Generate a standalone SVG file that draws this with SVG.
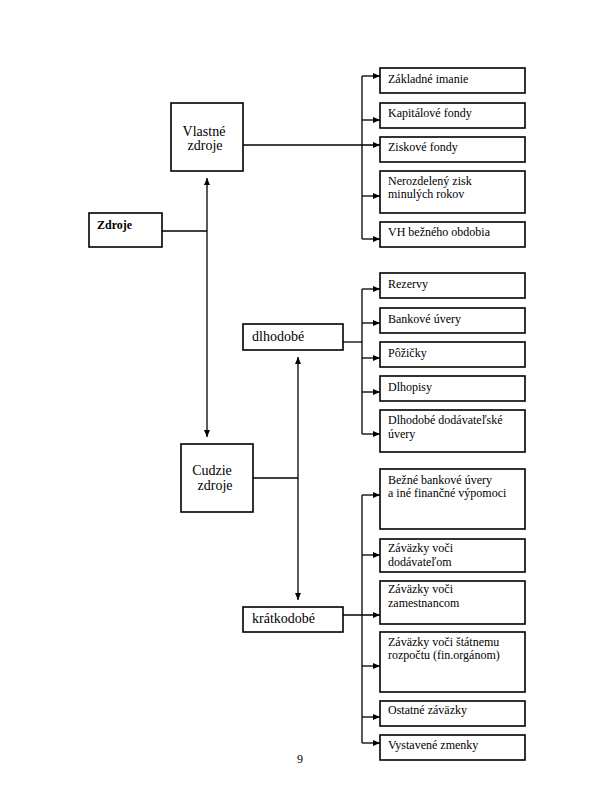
<svg xmlns="http://www.w3.org/2000/svg" width="600" height="800" viewBox="0 0 600 800">
<defs>
<marker id="arr" markerUnits="userSpaceOnUse" markerWidth="7" markerHeight="6" refX="7" refY="3" orient="auto-start-reverse">
<path d="M0,0 L7,3 L0,6 z" fill="#000"/>
</marker>
<style>
.box{fill:#fff;stroke:#000;stroke-width:1.6}
.ln{fill:none;stroke:#000;stroke-width:1.3}
text{font-family:'Liberation Serif','DejaVu Serif','Times New Roman',Times,serif;fill:#000}
.t{font-size:12px}
.m{font-size:14px}
.b{font-size:12px;font-weight:bold}
</style>
</defs>
<rect width="600" height="800" fill="#fff"/>
<g id="connectors">
<path class="ln" d="M162,231 H207"/>
<path class="ln" d="M207,178 V437" marker-start="url(#arr)" marker-end="url(#arr)"/>
<path class="ln" d="M243,145 H380" marker-end="url(#arr)"/>
<path class="ln" d="M362,76 V239"/>
<path class="ln" d="M362,76 H380" marker-end="url(#arr)"/>
<path class="ln" d="M362,120 H380" marker-end="url(#arr)"/>
<path class="ln" d="M362,196 H380" marker-end="url(#arr)"/>
<path class="ln" d="M362,239 H380" marker-end="url(#arr)"/>
<path class="ln" d="M253,478 H298"/>
<path class="ln" d="M298,357 V600" marker-start="url(#arr)" marker-end="url(#arr)"/>
<path class="ln" d="M343,342 H362"/>
<path class="ln" d="M362,289 V434"/>
<path class="ln" d="M362,289 H380" marker-end="url(#arr)"/>
<path class="ln" d="M362,323 H380" marker-end="url(#arr)"/>
<path class="ln" d="M362,358 H380" marker-end="url(#arr)"/>
<path class="ln" d="M362,392 H380" marker-end="url(#arr)"/>
<path class="ln" d="M362,434 H380" marker-end="url(#arr)"/>
<path class="ln" d="M343,615 H380" marker-end="url(#arr)"/>
<path class="ln" d="M362,495 V743"/>
<path class="ln" d="M362,495 H380" marker-end="url(#arr)"/>
<path class="ln" d="M362,555 H380" marker-end="url(#arr)"/>
<path class="ln" d="M362,666 H380" marker-end="url(#arr)"/>
<path class="ln" d="M362,717 H380" marker-end="url(#arr)"/>
<path class="ln" d="M362,743 H380" marker-end="url(#arr)"/>
</g>
<g id="zdroje"><rect class="box" x="89" y="213" width="73" height="34"/><text class="b" x="97" y="229">Zdroje</text></g>
<g id="vlastne"><rect class="box" x="171" y="103" width="72" height="68"/><text class="m" x="204" y="136" text-anchor="middle">Vlastné</text><text class="m" x="205" y="150" text-anchor="middle">zdroje</text></g>
<g id="cudzie"><rect class="box" x="181" y="444" width="72" height="68"/><text class="m" x="212" y="475" text-anchor="middle">Cudzie</text><text class="m" x="215" y="490" text-anchor="middle">zdroje</text></g>
<g id="dlhodobe"><rect class="box" x="243" y="324" width="100" height="26"/><text class="m" x="252" y="341">dlhodobé</text></g>
<g id="kratkodobe"><rect class="box" x="243" y="607" width="100" height="25"/><text class="m" x="252" y="623">krátkodobé</text></g>
<g id="zakladne"><rect class="box" x="380" y="68" width="145" height="25"/><text class="t" x="388" y="83">Základné imanie</text></g>
<g id="kapitalove"><rect class="box" x="380" y="103" width="145" height="25"/><text class="t" x="388" y="117">Kapitálové fondy</text></g>
<g id="ziskove"><rect class="box" x="380" y="137" width="145" height="25"/><text class="t" x="388" y="151">Ziskové fondy</text></g>
<g id="nerozdeleny"><rect class="box" x="380" y="171" width="145" height="42"/><text class="t" x="388" y="185">Nerozdelený zisk</text><text class="t" x="388" y="198">minulých rokov</text></g>
<g id="vh"><rect class="box" x="380" y="222" width="145" height="25"/><text class="t" x="388" y="236">VH bežného obdobia</text></g>
<g id="rezervy"><rect class="box" x="380" y="273" width="145" height="25"/><text class="t" x="388" y="288">Rezervy</text></g>
<g id="bankove"><rect class="box" x="380" y="308" width="145" height="25"/><text class="t" x="388" y="323">Bankové úvery</text></g>
<g id="pozicky"><rect class="box" x="380" y="342" width="145" height="25"/><text class="t" x="388" y="357">Pôžičky</text></g>
<g id="dlhopisy"><rect class="box" x="380" y="376" width="145" height="25"/><text class="t" x="388" y="391">Dlhopisy</text></g>
<g id="dlhodobe-dod"><rect class="box" x="380" y="410" width="145" height="42"/><text class="t" x="388" y="424">Dlhodobé dodávateľské</text><text class="t" x="388" y="438">úvery</text></g>
<g id="bezne"><rect class="box" x="380" y="469" width="145" height="60"/><text class="t" x="388" y="484">Bežné bankové úvery</text><text class="t" x="388" y="497">a iné finančné výpomoci</text></g>
<g id="dodavatelom"><rect class="box" x="380" y="539" width="145" height="33"/><text class="t" x="388" y="552">Záväzky voči</text><text class="t" x="388" y="566">dodávateľom</text></g>
<g id="zamestnancom"><rect class="box" x="380" y="581" width="145" height="43"/><text class="t" x="388" y="593">Záväzky voči</text><text class="t" x="388" y="607">zamestnancom</text></g>
<g id="statnemu"><rect class="box" x="380" y="632" width="145" height="60"/><text class="t" x="388" y="646">Záväzky voči štátnemu</text><text class="t" x="388" y="659">rozpočtu (fin.orgánom)</text></g>
<g id="ostatne"><rect class="box" x="380" y="701" width="145" height="25"/><text class="t" x="388" y="714">Ostatné záväzky</text></g>
<g id="vystavene"><rect class="box" x="380" y="735" width="145" height="25"/><text class="t" x="388" y="749">Vystavené zmenky</text></g>
<text class="t" x="300" y="763" text-anchor="middle">9</text>
</svg>
